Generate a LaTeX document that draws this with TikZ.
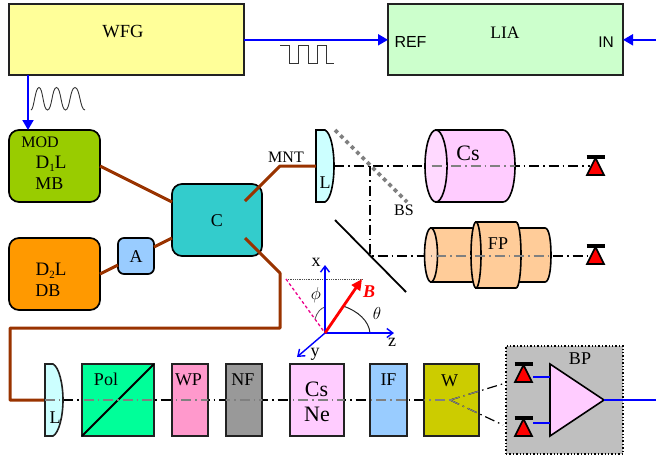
\documentclass[tikz,border=0pt]{standalone}
\usepackage{fontspec}
\setmainfont{Liberation Serif}
\setsansfont{Liberation Sans}
\usetikzlibrary{arrows.meta,calc}
\definecolor{cwfg}{HTML}{FFFF99}
\definecolor{clia}{HTML}{CCFFCC}
\definecolor{cmod}{HTML}{99CC00}
\definecolor{ccc}{HTML}{33CCCC}
\definecolor{cdb}{HTML}{FF9900}
\definecolor{camp}{HTML}{99CCFF}
\definecolor{clens}{HTML}{CCFFFF}
\definecolor{cpol}{HTML}{00FF99}
\definecolor{cwp}{HTML}{FF99CC}
\definecolor{cnf}{HTML}{999999}
\definecolor{ccs}{HTML}{FFCCFF}
\definecolor{ccsl}{HTML}{FFD9FF}
\definecolor{cw}{HTML}{CCCC00}
\definecolor{cfp}{HTML}{FFCC99}
\definecolor{cfpl}{HTML}{FFD9B8}
\definecolor{cbrown}{HTML}{993300}
\definecolor{cline}{HTML}{222222}
\newcommand\fs[1]{\fontsize{#1}{#1}\selectfont}
\newcommand\detector[2]{%
  \path[draw=black,line width=1.6pt,fill=red,line join=miter] (#1,#2+1) -- (#1+8.5,#2+18) -- (#1-8.5,#2+18) -- cycle;
  \draw[line width=3.2pt,line cap=butt] (#1-9,#2) -- (#1+9,#2);}
\tikzset{
  x=1pt,y=-1pt,
  box/.style={draw=cline,line width=1.7pt,outer sep=0pt,inner sep=0pt},
  rbox/.style={box,draw=black,rounded corners=10pt},
  txt/.style={inner sep=0pt,font=\fs{16}},
  fibre/.style={draw=cbrown,line width=3pt,line join=round},
  signal/.style={draw=blue,line width=1.9pt},
  sigarrow/.style={signal,-{Triangle[length=10pt,width=11pt]}},
  beam/.style={line width=1.2pt,dash pattern=on 10pt off 4pt on 1.5pt off 4pt},
  cell/.style={draw=black,line width=1.6pt},
  axis/.style={draw=blue,line width=1.4pt,-{Straight Barb[length=6pt,width=9pt]}},
  wave/.style={draw=black!80,line width=.9pt}
}
\begin{document}
\begin{tikzpicture}
\useasboundingbox (0,0) rectangle (656,459);
% top instruments
\node[box,fill=cwfg,minimum width=235pt,minimum height=71pt] (wfg) at (126.5,39.5) {};
\node[box,fill=clia,minimum width=235pt,minimum height=71pt] (lia) at (505.5,39.5) {};
\node[txt,font=\fs{18.5}] (wfgt) at (123,32) {WFG};
\node[txt,font=\fs{17.5}] (liat) at (505,33) {LIA};
\node[txt,font=\sffamily\fs{16}] (ref) at (410.5,41.5) {REF};
\node[txt,font=\sffamily\fs{15.5}] (in) at (606,42) {IN};
\coordinate (inend) at (656,39.8);
\draw[sigarrow,line width=2.1pt] ([yshift=-.3pt]wfg.east) -- ([yshift=-.3pt]lia.west);
\draw[sigarrow] (inend) -- ([yshift=-.3pt]lia.east);
% sources
\node[rbox,fill=cmod,minimum width=91pt,minimum height=72pt] (mod) at (54.5,166) {};
\node[rbox,fill=cdb,minimum width=91pt,minimum height=72pt] (db) at (54.5,274) {};
\node[rbox,fill=ccc,minimum width=90pt,minimum height=72pt] (c) at (217,220) {};
\node[box,draw=black,rounded corners=6pt,fill=camp,minimum width=36pt,minimum height=36pt] (a) at (136,256) {};
\draw[sigarrow] ([xshift=-26.5pt]mod.north |- wfg.south) -- ([xshift=-26.5pt]mod.north);
\node[txt,font=\fs{16}] (modt) at (40,142) {MOD};
\node[txt,font=\fs{19}] (d1) at (51,163.5) {D\raisebox{-3pt}{\fs{11}1}L};
\node[txt,font=\fs{18}] (mb) at (49.5,183.5) {MB};
\node[txt,font=\fs{19}] (d2) at (51,270.5) {D\raisebox{-3pt}{\fs{11}2}L};
\node[txt,font=\fs{18}] (dbt) at (48,290.5) {DB};
\node[txt,font=\fs{18}] (ct) at (217,221) {C};
\node[txt,font=\fs{18}] (at) at (136,257) {A};
% waves
\draw[wave] (31,110) .. controls (34,110) and (35,87.5) .. (39,87.5) .. controls (43,87.5) and (43,110) .. (47.5,110)
  .. controls (52,110) and (52,87.5) .. (56.5,87.5) .. controls (61,87.5) and (61,110) .. (65.5,110)
  .. controls (70,110) and (70,87.5) .. (75,87.5) .. controls (80,87.5) and (80,110) .. (85,110);
\draw[wave] (280,45) -- (289,45) -- (289,63) -- (298,63) -- (298,45) -- (308,45) -- (308,63) -- (317,63) -- (317,45) -- (326,45) -- (326,63) -- (334,63);
% optical beams below components
\coordinate (bs1) at (335,130);
\coordinate (bs2) at (407,202);
\coordinate (m1) at (335,220);
\coordinate (m2) at (406,292);
\coordinate (j1) at (370,166);
\coordinate (j2) at (370,256);
\coordinate (d1e) at (590,166);
\coordinate (d2e) at (590,256);
\node[inner sep=0pt,minimum width=18pt,minimum height=72pt] (l1) at (325,166) {};
\node[inner sep=0pt,minimum width=18pt,minimum height=72pt] (l2) at (54,400) {};
\draw[beam] (l1.east) -- (d1e);
\draw[beam] (j1) -- (j2) -- (d2e);
% L upper
\draw[cell,fill=clens] (316,130) -- (325,130) .. controls (331,133) and (334,150) .. (334,166) .. controls (334,182) and (331,199) .. (325,202) -- (316,202) -- cycle;
\node[txt,font=\fs{18}] (lt1) at (325,183) {L};
% BS and mirror
\draw[draw=gray,line width=3.8pt,dash pattern=on 3.8pt off 3.8pt] (bs1) -- (bs2);
\node[txt] (bst) at (404,210) {BS};
\draw[line width=1.8pt] (m1) -- (m2);
% Cs cell
\draw[cell,fill=ccs] (436,130) -- (503,130) .. controls +(7,0) and +(0,-20) .. (515,166) .. controls +(0,20) and +(7,0) .. (503,202) -- (436,202) -- cycle;
\draw[cell,fill=ccsl] (436,166) ellipse [x radius=11pt,y radius=36pt];
\node[txt,font=\fs{22}] (cst) at (468,153) {Cs};
% FP
\draw[cell,fill=cfp] (431,228) -- (472,228) .. controls +(5,0) and +(0,-15) .. (480,255) .. controls +(0,15) and +(5,0) .. (472,282) -- (431,282) -- cycle;
\draw[cell,fill=cfpl] (431,255) ellipse [x radius=6.5pt,y radius=27pt];
\draw[cell,fill=cfp] (510,228) -- (545,228) .. controls +(4,0) and +(0,-15) .. (551,255) .. controls +(0,15) and +(4,0) .. (545,282) -- (510,282) -- cycle;
\draw[cell,fill=cfp] (476,222) -- (516,222) .. controls +(3,0) and +(0,-18) .. (521,255) .. controls +(0,18) and +(3,0) .. (516,288) -- (476,288) -- cycle;
\draw[cell,fill=cfp] (476,255) ellipse [x radius=5pt,y radius=33pt];
\node[txt,font=\fs{18}] (fpt) at (498,244) {FP};
% grey beam through the cells
\begin{scope}
\clip (431,130) rectangle (515,202) (431,222) rectangle (551,288);
\draw[beam,draw=gray] (l1.east) -- (d1e);
\draw[beam,draw=gray] (j1) -- (j2) -- (d2e);
\end{scope}
% detectors
\detector{595.5}{157}
\detector{595.5}{246}
% fibres
\node[txt] (mnt) at (286,157) {MNT};
\coordinate (f1) at (280,166);
\coordinate (f2) at (280,273);
\coordinate (f3) at (280,328);
\coordinate (f4) at (10,328);
\coordinate (f5) at (10,400);
\path[fibre] (mod.east) -- ([yshift=18pt]c.west);
\path[fibre] (db.east) -- ([yshift=-9pt]a.west);
\path[fibre] ([yshift=9pt]a.east) -- ([yshift=-18pt]c.west);
\path[fibre] ($(c.center)+(28,-19)$) -- (f1) -- (l1.west);
\path[fibre] ($(c.center)+(28,18)$) -- (f2) -- (f3) -- (f4) -- (f5) -- (l2.west);
% lower beam
\coordinate (bp1) at (505.5,383);
\coordinate (bp2) at (503,425);
\coordinate (foc) at (450,400);
\draw[beam] (l2.east) -- (foc);
% lower components
\node[box,fill=cpol,minimum width=72pt,minimum height=72pt] (pol) at (118,400) {};
\node[box,fill=cwp,minimum width=36pt,minimum height=72pt] (wp) at (190,400) {};
\node[box,fill=cnf,minimum width=36pt,minimum height=72pt] (nf) at (244,400) {};
\node[box,fill=ccs,minimum width=54.5pt,minimum height=72pt] (cn) at (317,400) {};
\node[box,fill=camp,minimum width=37pt,minimum height=72pt] (ifb) at (388.5,400) {};
\node[box,fill=cw,minimum width=54.5pt,minimum height=72pt] (w) at (451.5,400) {};
\draw[cell,draw=cline,fill=clens] (45,364) -- (53,364) .. controls (59,367) and (63,384) .. (63,400) .. controls (63,416) and (59,433) .. (53,436) -- (45,436) -- cycle;
\draw[line width=1.8pt] (pol.south west) -- (pol.north east);
% rays leaving W, black outside it
\draw[beam] (foc) -- (bp1);
\draw[beam] (foc) -- (bp2);
% grey over components
\begin{scope}
\clip (45,364) rectangle (63,436) (pol.south west) rectangle (pol.north east) (wp.south west) rectangle (wp.north east) (nf.south west) rectangle (nf.north east) (cn.south west) rectangle (cn.north east) (ifb.south west) rectangle (ifb.north east) (w.south west) rectangle (w.north east);
\draw[beam,draw=gray] (l2.west) -- (foc);
\draw[beam,draw=gray] (foc) -- (bp1);
\draw[beam,draw=gray] (foc) -- (bp2);
\end{scope}
\node[txt,font=\fs{18}] (lt2) at (55,418) {L};
\node[txt,font=\fs{18}] (polt) at (106,379) {Pol};
\node[txt,font=\fs{18}] (wpt) at (188.5,380) {WP};
\node[txt,font=\fs{18}] (nft) at (243,380) {NF};
\node[txt,font=\fs{22}] (cst2) at (316.5,389) {Cs};
\node[txt,font=\fs{22}] (net) at (317,414) {Ne};
\node[txt,font=\fs{18}] (ift) at (388.5,380) {IF};
\node[txt,font=\fs{18}] (wt) at (449.5,381) {W};
% balanced photodiode
\node[draw=black,dotted,line width=1.4pt,fill=black!25,minimum width=117pt,minimum height=108pt,inner sep=0pt,outer sep=0pt] (bp) at (564.5,400) {};
\node[txt,font=\fs{18}] (bpt) at (580,359) {BP};
\coordinate (am1) at (550,364);
\coordinate (am2) at (550,436);
\coordinate (amo) at (604,400);
\coordinate (pd1) at (533,377);
\coordinate (pd2) at (533,423);
\coordinate (am1i) at (550,377);
\coordinate (am2i) at (550,423);
\coordinate (outend) at (656,400);
\draw[line width=1.6pt,fill=ccs] (am1) -- (amo) -- (am2) -- cycle;
\draw[signal] (pd1) -- (am1i);
\draw[signal] (pd2) -- (am2i);
\draw[signal] (amo) -- (outend);
\detector{523.5}{364}
\detector{523.5}{418}
% axes
\coordinate (o) at (325,333);
\coordinate (bt) at (362,279);
\coordinate (pt) at (286,279);
\draw[draw=black!70,line width=.8pt,densely dotted] (pt) -- (bt);
\draw[draw=magenta,line width=1.3pt,dash pattern=on 3pt off 2.5pt] (pt) -- (o);
\draw[draw=black!70,line width=.8pt] (315,319) .. controls (317,312) and (321,308) .. (325,307);
\draw[draw=black!85,line width=1pt] (343,306) .. controls (358,311) and (369,321) .. (370,333);
\draw[axis] (o) -- (325,265);
\draw[axis] (o) -- (394,333);
\draw[axis] (o) -- (297,357);
\draw[draw=red,line width=2.8pt,-{Triangle[length=11pt,width=10pt]}] (o) -- (bt);
\node[txt,font=\fs{18}] (xl) at (316,262) {x};
\node[txt,font=\fs{18}] (yl) at (315,354) {y};
\node[txt,font=\fs{18}] (zl) at (392,342) {z};
\node[txt,font=\fs{18}] (phil) at (316,295) {$\phi$};
\node[txt,font=\fs{18}] (thl) at (377,313) {$\theta$};
\node[txt,font=\fs{18},text=red] (bl) at (369,292) {\textbf{\textit{B}}};
\end{tikzpicture}
\end{document}
